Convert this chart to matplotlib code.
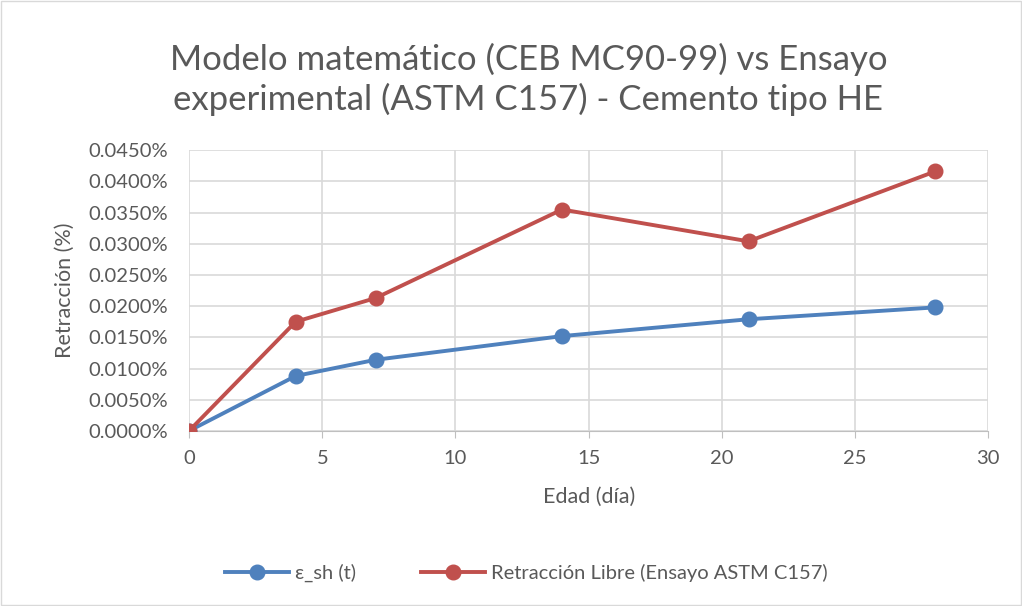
import matplotlib.pyplot as plt
from matplotlib.ticker import FuncFormatter, MultipleLocator
from matplotlib.patches import Rectangle

# datos (retracción en %)
edad = [0, 4, 7, 14, 21, 28]
eps_sh = [0.0, 0.0088, 0.0114, 0.0152, 0.0179, 0.0198]
retraccion_libre = [0.0, 0.0175, 0.0213, 0.0355, 0.0304, 0.0416]

azul = "#4F81BD"
rojo = "#C0504D"
gris = "#595959"

plt.rcParams["font.family"] = ["Lato", "DejaVu Sans"]

fig = plt.figure(figsize=(10.22, 6.06), dpi=100)
ax = fig.add_axes([0.185, 0.289, 0.782, 0.463])

ax.plot(edad, eps_sh, color=azul, lw=2.8, marker="o", ms=10.5, label="ε_sh (t)", zorder=3)
ax.plot(edad, retraccion_libre, color=rojo, lw=2.8, marker="o", ms=10.5,
        label="Retracción Libre (Ensayo ASTM C157)", zorder=3)

ax.set_xlim(0, 30)
ax.set_ylim(0, 0.045)
ax.xaxis.set_major_locator(MultipleLocator(5))
ax.yaxis.set_major_locator(MultipleLocator(0.005))
ax.yaxis.set_major_formatter(FuncFormatter(lambda v, p: f"{v:.4f}%"))
ax.grid(True, color="#D9D9D9", lw=1.2)
ax.set_axisbelow(True)
for s in ["top", "right", "left"]:
    ax.spines[s].set_visible(False)
ax.spines["bottom"].set_color("#BFBFBF")
ax.tick_params(length=0, labelsize=14.5, colors=gris)
ax.tick_params(axis="y", pad=15)
ax.tick_params(axis="x", length=5, color="#BFBFBF", direction="out", pad=9)

ax.set_xlabel("Edad (día)", fontsize=15.5, color=gris, labelpad=14)
ax.set_ylabel("Retracción (%)", fontsize=15.5, color=gris, labelpad=10)

fig.text(0.517, 0.869, "Modelo matemático (CEB MC90-99) vs Ensayo\nexperimental (ASTM C157) - Cemento tipo HE",
         fontsize=25, color=gris, ha="center", va="center", linespacing=1.25)

fig.legend(loc="center", bbox_to_anchor=(0.515, 0.055), ncol=2, frameon=False,
           fontsize=14.5, labelcolor=gris, handlelength=3.2, columnspacing=3.2,
           handletextpad=0.3)

fig.patches.append(Rectangle((0.001, 0.001), 0.998, 0.998, transform=fig.transFigure,
                             fill=False, ec="#D9D9D9", lw=1))

fig.savefig("out.png", dpi=100)
